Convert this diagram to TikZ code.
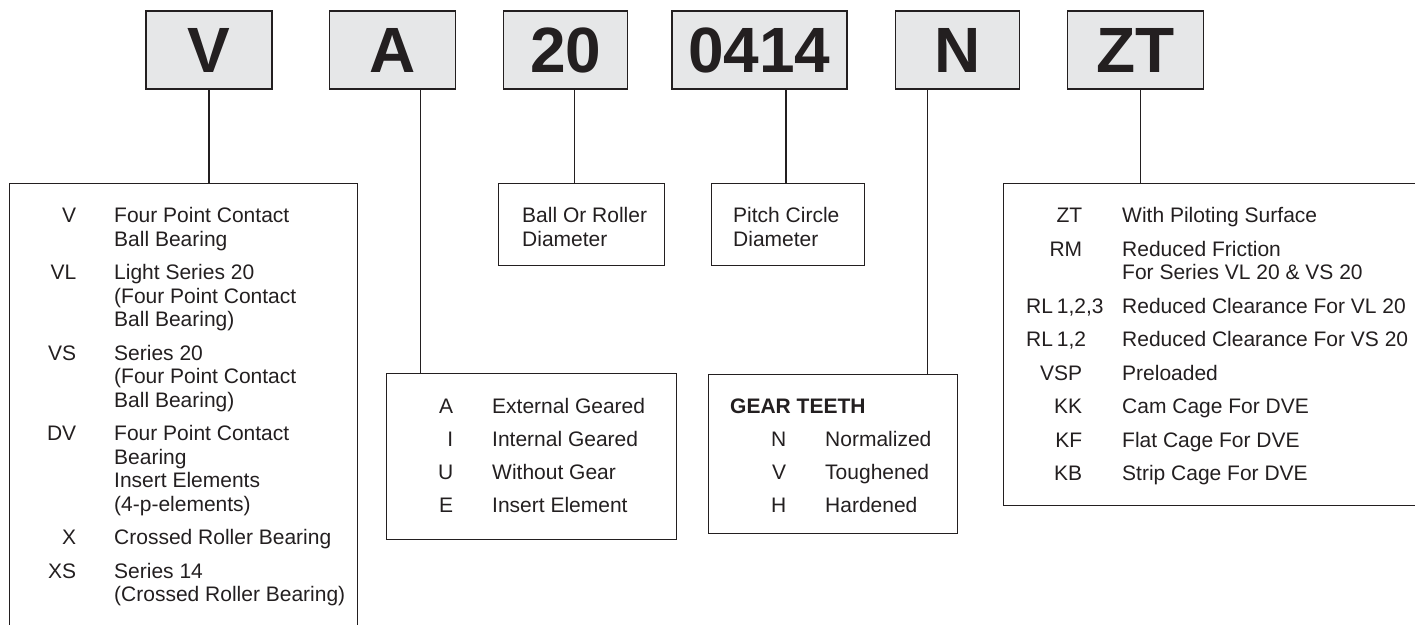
\documentclass[tikz,border=0pt]{standalone}
\usepackage{fontspec}
\setmainfont{Liberation Sans}
\usepackage{array}
\usetikzlibrary{positioning}
\definecolor{ink}{HTML}{231F20}
\definecolor{boxgrey}{HTML}{E6E7E8}
\newcolumntype{R}[1]{>{\raggedleft\arraybackslash}p{#1}}

\begin{document}
\begin{tikzpicture}[x=1pt,y=-1pt,
    key/.style={draw=ink,fill=boxgrey,line width=1.3pt,minimum height=78pt,inner sep=0pt,text=ink,font=\bfseries\fontsize{64}{64}\selectfont},
    panel/.style={draw=ink,line width=1.4pt,inner sep=0pt,anchor=north west},
    entries/.style={inner sep=0pt,anchor=base west,text=ink,font=\fontsize{21}{23.5}\selectfont},
    wire/.style={draw=ink,line width=1.3pt}]
    \useasboundingbox (0,0) rectangle (1415,624);

    % designation boxes
    \node[key,minimum width=126pt]                     (kV)    at (209,50) {V};
    \node[key,minimum width=126pt,right=56pt of kV]    (kA)    {A};
    \node[key,minimum width=124pt,right=47pt of kA]    (k20)   {20};
    \node[key,minimum width=175pt,right=43pt of k20]   (k0414) {0414};
    \node[key,minimum width=124pt,right=47pt of k0414] (kN)    {N};
    \node[key,minimum width=136pt,right=47pt of kN]    (kZT)   {ZT};

    % explanation panels
    \node[panel,minimum width=348pt,minimum height=460pt] (pV)     at (9,183)   {};
    \node[panel,minimum width=166pt,minimum height=82pt]  (pBall)  at (498,183) {};
    \node[panel,minimum width=153pt,minimum height=82pt]  (pPitch) at (711,183) {};
    \node[panel,minimum width=290pt,minimum height=166pt] (pA)     at (386,373) {};
    \node[panel,minimum width=249pt,minimum height=159pt] (pN)     at (708,374) {};
    \node[panel,minimum width=430pt,minimum height=322pt] (pZT)    at (1003,183) {};

    \node[entries] (lV) at ([shift={(7,39.5)}]pV.north west) {\begin{tabular}[t]{@{}R{60pt}@{\hspace{38pt}}l@{}}
        V  & Four Point Contact\\
           & Ball Bearing\\[10pt]
        VL & Light Series 20\\
           & (Four Point Contact\\
           & Ball Bearing)\\[10pt]
        VS & Series 20\\
           & (Four Point Contact\\
           & Ball Bearing)\\[10pt]
        DV & Four Point Contact\\
           & Bearing\\
           & Insert Elements\\
           & (4-p-elements)\\[10pt]
        X  & Crossed Roller Bearing\\[10pt]
        XS & Series 14\\
           & (Crossed Roller Bearing)
    \end{tabular}};
    \node[entries] (lBall) at ([shift={(24,39.5)}]pBall.north west) {\begin{tabular}[t]{@{}l@{}}Ball Or Roller\\ Diameter\end{tabular}};
    \node[entries] (lPitch) at ([shift={(22,39.5)}]pPitch.north west) {\begin{tabular}[t]{@{}l@{}}Pitch Circle\\ Diameter\end{tabular}};
    \node[entries] (lA) at ([shift={(27,40.5)}]pA.north west) {\begin{tabular}[t]{@{}R{40pt}@{\hspace{39pt}}l@{}}
        A & External Geared\\[9.5pt]
        I & Internal Geared\\[9.5pt]
        U & Without Gear\\[9.5pt]
        E & Insert Element
    \end{tabular}};
    \node[entries,font=\bfseries\fontsize{21}{23.5}\selectfont] (gTitle) at ([shift={(22,39.5)}]pN.north west) {GEAR TEETH};
    \node[entries] (lN) at ([shift={(38,72.5)}]pN.north west) {\begin{tabular}[t]{@{}R{40pt}@{\hspace{39pt}}l@{}}
        N & Normalized\\[9.5pt]
        V & Toughened\\[9.5pt]
        H & Hardened
    \end{tabular}};
    \node[entries] (lZT) at ([shift={(23,39.5)}]pZT.north west) {\begin{tabular}[t]{@{}R{56pt}@{\hspace{40pt}}l@{}}
        ZT       & With Piloting Surface\\[10pt]
        RM       & Reduced Friction\\
                 & For Series VL 20 \& VS 20\\[10pt]
        RL~1,2,3 & Reduced Clearance For VL 20\\[10pt]
        RL~1,2   & Reduced Clearance For VS 20\\[10pt]
        VSP      & Preloaded\\[10pt]
        KK       & Cam Cage For DVE\\[10pt]
        KF       & Flat Cage For DVE\\[10pt]
        KB       & Strip Cage For DVE
    \end{tabular}};

    % connectors
    \draw[wire] (kV.south) -- (kV.south |- pV.north);
    \draw[wire] ([xshift=28pt]kA.south) -- ([xshift=28pt]kA.south |- pA.north);
    \draw[wire] ([xshift=9pt]k20.south) -- ([xshift=9pt]k20.south |- pBall.north);
    \draw[wire] ([xshift=26.5pt]k0414.south) -- ([xshift=26.5pt]k0414.south |- pPitch.north);
    \draw[wire] ([xshift=-30pt]kN.south) -- ([xshift=-30pt]kN.south |- pN.north);
    \draw[wire] ([xshift=5pt]kZT.south) -- ([xshift=5pt]kZT.south |- pZT.north);
\end{tikzpicture}
\end{document}
